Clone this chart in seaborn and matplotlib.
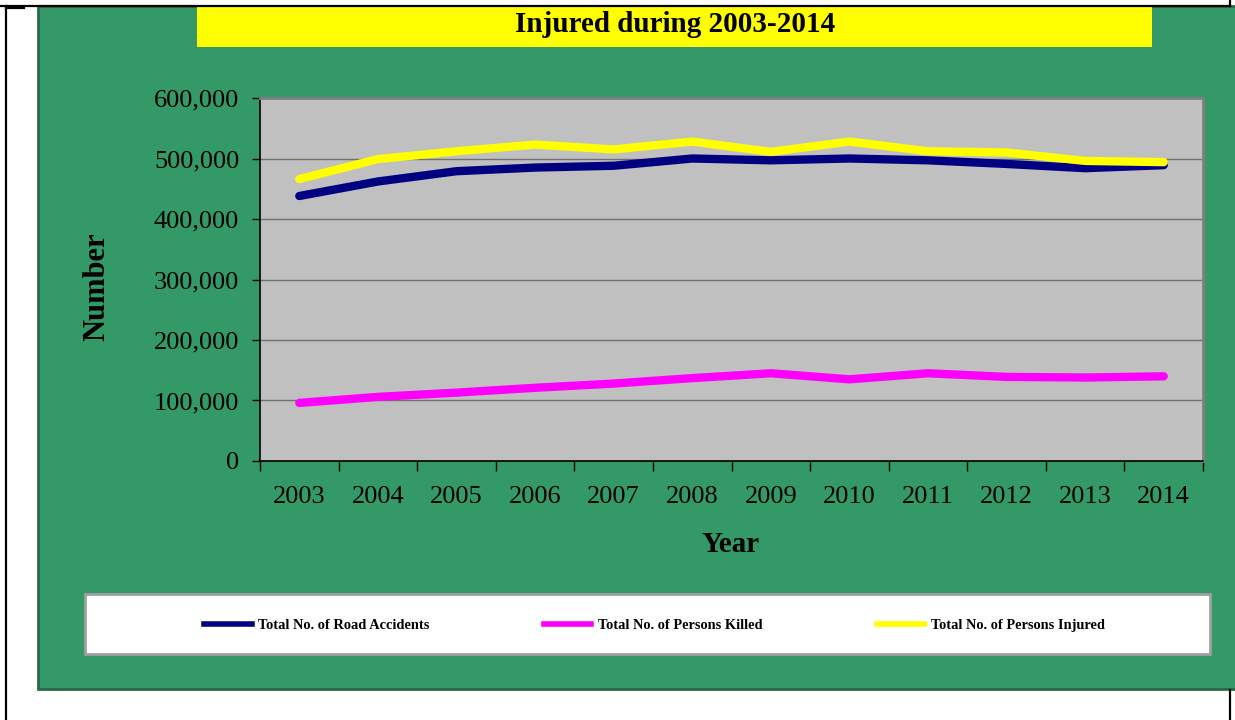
import pandas as pd
import matplotlib
matplotlib.use('Agg')
import matplotlib.pyplot as plt
import seaborn as sns
from matplotlib.patches import Rectangle
from matplotlib.lines import Line2D
from matplotlib.ticker import FuncFormatter, FixedLocator

# --- dados ---
anos = ['2003', '2004', '2005', '2006', '2007', '2008',
        '2009', '2010', '2011', '2012', '2013', '2014']
acidentes = [438000, 462000, 479000, 485000, 488000, 500000,
             497000, 500000, 497000, 491000, 484000, 489000]
mortos = [96000, 106000, 113000, 121000, 128000, 137000,
          145000, 135000, 145000, 139000, 138000, 140000]
feridos = [466000, 499000, 512000, 523000, 515000, 528000,
           511000, 528000, 512000, 510000, 496000, 494000]

series = ['Total No. of Road Accidents', 'Total No. of Persons Killed',
          'Total No. of Persons Injured']
cores = ['#000080', '#FF00FF', '#FFFF00']

df = pd.DataFrame({
    'idx': list(range(len(anos))) * 3,
    'valor': acidentes + mortos + feridos,
    'serie': [series[0]] * len(anos) + [series[1]] * len(anos) + [series[2]] * len(anos),
})

plt.rcParams['font.family'] = ['Liberation Serif', 'DejaVu Serif']

W, H = 1235, 720
fig = plt.figure(figsize=(W / 100, H / 100), dpi=100)
fig.patch.set_facecolor('white')

def fx(px):
    return px / W

def fy(py):
    return 1 - py / H

# fundo verde
fig.patches.append(Rectangle((fx(38), fy(689)), fx(1240) - fx(38), fy(6) - fy(689),
                             transform=fig.transFigure, facecolor='#339966',
                             edgecolor='#2a6a4a', lw=2, zorder=-3))
# caixa amarela do título
fig.patches.append(Rectangle((fx(197), fy(47)), fx(1152) - fx(197), fy(6) - fy(47),
                             transform=fig.transFigure, facecolor='#FFFF00',
                             edgecolor='none', zorder=-2))
fig.text(fx(675), fy(24), 'Injured during 2003-2014', ha='center', va='center',
         fontsize=21, fontweight='bold', color='black')

# caixa da legenda
fig.patches.append(Rectangle((fx(85), fy(654)), fx(1210) - fx(85), fy(594) - fy(654),
                             transform=fig.transFigure, facecolor='white',
                             edgecolor='#a0a0a0', lw=2, zorder=-2))

# linhas pretas da página
for xs, ys in [((0, 1230), (6, 6)), ((6, 6), (6, 720)), ((1230, 1230), (0, 6)),
               ((1230, 1230), (690, 720)), ((6, 24), (8, 8))]:
    fig.lines.append(Line2D([fx(xs[0]), fx(xs[1])], [fy(ys[0]), fy(ys[1])],
                            transform=fig.transFigure, color='black', lw=1.6, zorder=5))

ax = fig.add_axes([fx(260), fy(461), fx(1203) - fx(260), fy(98) - fy(461)])
ax.set_zorder(2)
ax.set_facecolor('#C0C0C0')

sns.lineplot(data=df, x='idx', y='valor', hue='serie', hue_order=series,
             palette=cores, linewidth=6, legend=False, ax=ax,
             solid_capstyle='round', solid_joinstyle='round', zorder=3)

ax.set_xlim(-0.5, len(anos) - 0.5)
ax.set_ylim(0, 600000)
ax.yaxis.set_major_locator(FixedLocator(range(0, 600001, 100000)))
ax.yaxis.set_major_formatter(FuncFormatter(lambda v, p: f'{v:,.0f}'))
ax.grid(axis='y', color='#707070', lw=1)
ax.set_axisbelow(True)

ax.set_xticks([i - 0.5 for i in range(len(anos) + 1)])
ax.set_xticklabels([])
ax.set_xticks(range(len(anos)), minor=True)
ax.set_xticklabels(anos, minor=True)
ax.tick_params(axis='x', which='major', length=7, width=1, direction='out')
ax.tick_params(axis='x', which='minor', length=0, pad=18, labelsize=19)
ax.tick_params(axis='y', length=6, width=1, direction='out', pad=9, labelsize=19)
ax.set_xlabel('')
ax.set_ylabel('')

for lado in ['top', 'right']:
    ax.spines[lado].set_color('#808080')
    ax.spines[lado].set_linewidth(2)
for lado in ['left', 'bottom']:
    ax.spines[lado].set_color('black')
    ax.spines[lado].set_linewidth(1.2)

fig.text(fx(97), fy(287), 'Number', rotation=90, ha='center', va='center',
         fontsize=22, fontweight='bold')
fig.text(fx(731), fy(545), 'Year', ha='center', va='center',
         fontsize=21, fontweight='bold')

handles = [Line2D([], [], color=c, lw=4) for c in cores]
fig.legend(handles, series, loc='center left', bbox_to_anchor=(fx(191), fy(625)),
           ncol=3, frameon=False, prop={'size': 10.4, 'weight': 'bold'},
           handlelength=3.3, handletextpad=0.45, columnspacing=7.9)

plt.savefig('out.png', dpi=100)
